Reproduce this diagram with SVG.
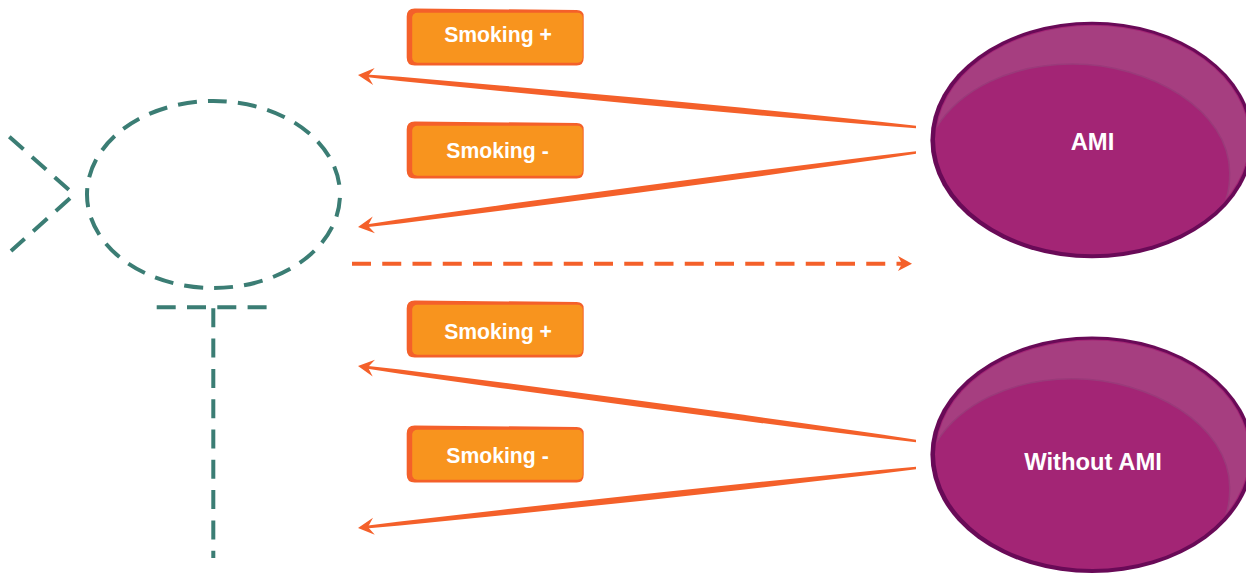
<svg xmlns="http://www.w3.org/2000/svg" width="1246" height="574" viewBox="0 0 1246 574">
<style>
.dash{fill:none;stroke:#3b7d74;stroke-width:4}
.conn{fill:#f4602a;stroke:none}
.boxo{fill:#f4602a;stroke:none}
.boxi{fill:#f8941e;stroke:none}
.ell{fill:#a32575}
.rim{fill:#690a57}
.hl{fill:#a63e80;stroke:#9a3a7a;stroke-width:1.5}
text{font-family:"Liberation Sans",Arial,sans-serif;font-weight:bold;fill:#fff;text-anchor:middle}
.t1{font-size:21.2px}
.t2{font-size:23.800px}
</style>
<defs>
<clipPath id="band-clip"><ellipse cx="0.500" cy="-0.500" rx="156.500" ry="113.700"/></clipPath>
<path id="head" d="M0 0 L16 -8.500 L10 0 L16 8.500 Z"/>
<g id="oval">
<ellipse class="rim" cx="0" cy="0" rx="161.600" ry="118.200"/>
<ellipse class="ell" cx="0.500" cy="-0.500" rx="157.500" ry="114.700"/>
<path class="hl" clip-path="url(#band-clip)" d="M-155.300 -13 C-132 -50 -82 -76 -19.300 -76 C58 -76 137.700 -30 137.700 33 Q137.700 50 133.700 60 L200 60 L200 -200 L-200 -200 L-200 -13 Z"/>
</g>
<g id="badge">
<path class="boxo" d="M8 0 L170 1.500 Q177 1.500 177 8 L177 49 Q177 57 170 57 L8 57 Q0 57 0 49 L0 8 Q0 0 8 0 Z"/>
<rect class="boxi" x="5.500" y="4.300" width="170.500" height="50" rx="5"/>
</g>
</defs>
<g id="fish">
<ellipse class="dash" cx="213.500" cy="194.500" rx="126.500" ry="93.500" stroke-dasharray="19 11.100" stroke-dashoffset="-3.500"/>
<path class="dash" d="M9.300 136.700 L69 190" stroke-dasharray="19 11.400"/>
<path class="dash" d="M70 198.300 L11 251" stroke-dasharray="19 11.400"/>
<path class="dash" d="M156.700 307.300 L267 307.300" stroke-dasharray="19 11.300"/>
<path class="dash" d="M213.300 308.300 L213.300 558" stroke-dasharray="19 11.300"/>
</g>
<g id="connectors">
<path class="conn" d="M366 74.450 L400 76.800 L500 85.400 L640 98.100 L740 107.600 L800 113.600 L880 121.700 L916 125.800 L916 128.200 L880 125.500 L800 118.800 L740 113.600 L640 104.500 L500 91 L400 81 L366 77.050 Z"/>
<use href="#head" class="conn" transform="translate(358 75) rotate(5.300)"/>
<path class="conn" d="M366 224.600 L400 219.300 L500 205.200 L640 186.200 L740 173 L800 165.400 L880 155.400 L916 151.300 L916 153.700 L880 159.200 L800 170.600 L740 179 L640 192.600 L500 210.800 L400 223.500 L366 227.200 Z"/>
<use href="#head" class="conn" transform="translate(358 227) rotate(-7.600)"/>
<path class="conn" d="M366 365.800 L400 369.500 L500 382.300 L640 400.700 L740 414.300 L800 422.800 L880 434.300 L916 439.800 L916 442.200 L880 438.100 L800 428 L740 420.300 L640 407.100 L500 387.900 L400 373.700 L366 368.400 Z"/>
<use href="#head" class="conn" transform="translate(358 366) rotate(7.700)"/>
<path class="conn" d="M366 525.800 L400 521.400 L500 509.900 L640 494.500 L740 483.900 L800 477.900 L880 470 L916 466.800 L916 469.200 L880 473.800 L800 483.100 L740 489.900 L640 500.900 L500 515.500 L400 525.600 L366 528.400 Z"/>
<use href="#head" class="conn" transform="translate(358 528) rotate(-6.100)"/>
<path d="M352 263.700 L902 263.700" fill="none" stroke="#f4602a" stroke-width="4" stroke-dasharray="19 11.250"/>
<path class="conn" d="M912 263.700 L898 256 L902 263.700 L898 271 Z"/>
</g>
<g id="smoking-plus-1"><use href="#badge" x="406.700" y="8.500"/><text class="t1" x="498" y="42">Smoking +</text></g>
<g id="smoking-minus-1"><use href="#badge" x="406.700" y="121.500"/><text class="t1" x="497.500" y="158">Smoking -</text></g>
<g id="smoking-plus-2"><use href="#badge" x="406.700" y="300.500"/><text class="t1" x="498" y="339">Smoking +</text></g>
<g id="smoking-minus-2"><use href="#badge" x="406.700" y="425.500"/><text class="t1" x="497.500" y="463">Smoking -</text></g>
<g id="ami"><use href="#oval" x="1092" y="140"/><text class="t2" x="1092.500" y="150">AMI</text></g>
<g id="without-ami"><use href="#oval" x="1092" y="454.800"/><text class="t2" x="1093" y="470">Without AMI</text></g>
</svg>
